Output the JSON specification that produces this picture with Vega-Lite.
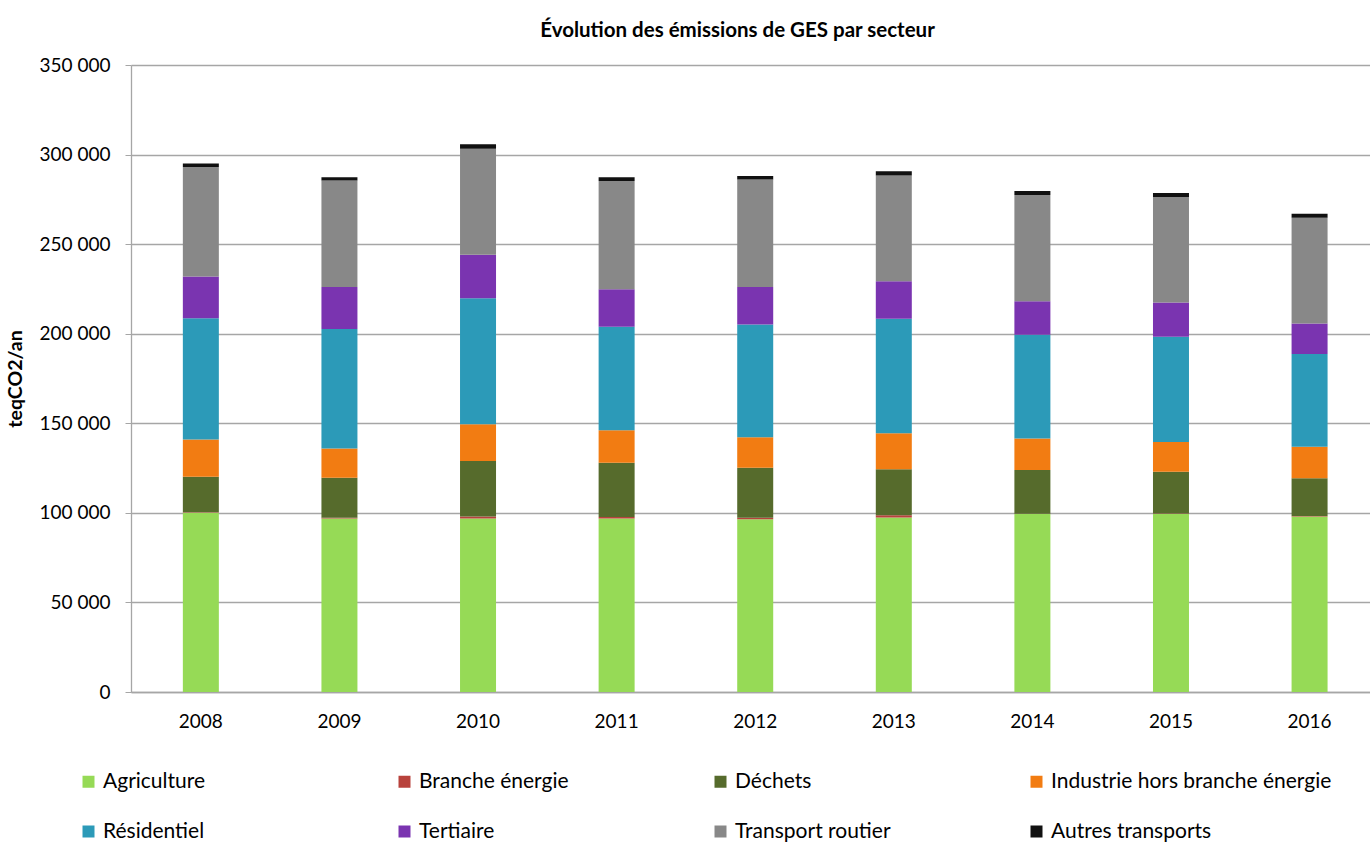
{
  "$schema": "https://vega.github.io/schema/vega-lite/v6.json",
  "autosize": {"type": "none"},
  "padding": {"left": 131, "top": 65, "right": 0, "bottom": 152},
  "width": 1239,
  "height": 627,
  "background": "white",
  "title": {
    "text": "Évolution des émissions de GES par secteur",
    "fontSize": 20.5,
    "fontWeight": "bold",
    "color": "#000000",
    "anchor": "middle",
    "dx": -13,
    "offset": 15
  },
  "data": {
    "values": [
      {"annee": "2008", "secteur": "Agriculture", "teq": 100100},
      {"annee": "2008", "secteur": "Branche énergie", "teq": 300},
      {"annee": "2008", "secteur": "Déchets", "teq": 19800},
      {"annee": "2008", "secteur": "Industrie hors branche énergie", "teq": 20700},
      {"annee": "2008", "secteur": "Résidentiel", "teq": 67800},
      {"annee": "2008", "secteur": "Tertiaire", "teq": 23200},
      {"annee": "2008", "secteur": "Transport routier", "teq": 61100},
      {"annee": "2008", "secteur": "Autres transports", "teq": 2000},

      {"annee": "2009", "secteur": "Agriculture", "teq": 96800},
      {"annee": "2009", "secteur": "Branche énergie", "teq": 500},
      {"annee": "2009", "secteur": "Déchets", "teq": 22300},
      {"annee": "2009", "secteur": "Industrie hors branche énergie", "teq": 16300},
      {"annee": "2009", "secteur": "Résidentiel", "teq": 66700},
      {"annee": "2009", "secteur": "Tertiaire", "teq": 23500},
      {"annee": "2009", "secteur": "Transport routier", "teq": 59400},
      {"annee": "2009", "secteur": "Autres transports", "teq": 1900},

      {"annee": "2010", "secteur": "Agriculture", "teq": 96800},
      {"annee": "2010", "secteur": "Branche énergie", "teq": 1200},
      {"annee": "2010", "secteur": "Déchets", "teq": 30900},
      {"annee": "2010", "secteur": "Industrie hors branche énergie", "teq": 20500},
      {"annee": "2010", "secteur": "Résidentiel", "teq": 70400},
      {"annee": "2010", "secteur": "Tertiaire", "teq": 24300},
      {"annee": "2010", "secteur": "Transport routier", "teq": 59200},
      {"annee": "2010", "secteur": "Autres transports", "teq": 2400},

      {"annee": "2011", "secteur": "Agriculture", "teq": 96800},
      {"annee": "2011", "secteur": "Branche énergie", "teq": 900},
      {"annee": "2011", "secteur": "Déchets", "teq": 30300},
      {"annee": "2011", "secteur": "Industrie hors branche énergie", "teq": 18100},
      {"annee": "2011", "secteur": "Résidentiel", "teq": 57800},
      {"annee": "2011", "secteur": "Tertiaire", "teq": 20900},
      {"annee": "2011", "secteur": "Transport routier", "teq": 60400},
      {"annee": "2011", "secteur": "Autres transports", "teq": 2200},

      {"annee": "2012", "secteur": "Agriculture", "teq": 96500},
      {"annee": "2012", "secteur": "Branche énergie", "teq": 700},
      {"annee": "2012", "secteur": "Déchets", "teq": 28000},
      {"annee": "2012", "secteur": "Industrie hors branche énergie", "teq": 17000},
      {"annee": "2012", "secteur": "Résidentiel", "teq": 63000},
      {"annee": "2012", "secteur": "Tertiaire", "teq": 20900},
      {"annee": "2012", "secteur": "Transport routier", "teq": 60000},
      {"annee": "2012", "secteur": "Autres transports", "teq": 2000},

      {"annee": "2013", "secteur": "Agriculture", "teq": 97400},
      {"annee": "2013", "secteur": "Branche énergie", "teq": 1200},
      {"annee": "2013", "secteur": "Déchets", "teq": 25800},
      {"annee": "2013", "secteur": "Industrie hors branche énergie", "teq": 20000},
      {"annee": "2013", "secteur": "Résidentiel", "teq": 63900},
      {"annee": "2013", "secteur": "Tertiaire", "teq": 21000},
      {"annee": "2013", "secteur": "Transport routier", "teq": 59000},
      {"annee": "2013", "secteur": "Autres transports", "teq": 2400},

      {"annee": "2014", "secteur": "Agriculture", "teq": 99300},
      {"annee": "2014", "secteur": "Branche énergie", "teq": 200},
      {"annee": "2014", "secteur": "Déchets", "teq": 24400},
      {"annee": "2014", "secteur": "Industrie hors branche énergie", "teq": 17600},
      {"annee": "2014", "secteur": "Résidentiel", "teq": 57900},
      {"annee": "2014", "secteur": "Tertiaire", "teq": 18700},
      {"annee": "2014", "secteur": "Transport routier", "teq": 59300},
      {"annee": "2014", "secteur": "Autres transports", "teq": 2200},

      {"annee": "2015", "secteur": "Agriculture", "teq": 99300},
      {"annee": "2015", "secteur": "Branche énergie", "teq": 300},
      {"annee": "2015", "secteur": "Déchets", "teq": 23400},
      {"annee": "2015", "secteur": "Industrie hors branche énergie", "teq": 16600},
      {"annee": "2015", "secteur": "Résidentiel", "teq": 58700},
      {"annee": "2015", "secteur": "Tertiaire", "teq": 19100},
      {"annee": "2015", "secteur": "Transport routier", "teq": 58900},
      {"annee": "2015", "secteur": "Autres transports", "teq": 2200},

      {"annee": "2016", "secteur": "Agriculture", "teq": 97900},
      {"annee": "2016", "secteur": "Branche énergie", "teq": 400},
      {"annee": "2016", "secteur": "Déchets", "teq": 21000},
      {"annee": "2016", "secteur": "Industrie hors branche énergie", "teq": 17600},
      {"annee": "2016", "secteur": "Résidentiel", "teq": 51800},
      {"annee": "2016", "secteur": "Tertiaire", "teq": 17000},
      {"annee": "2016", "secteur": "Transport routier", "teq": 59100},
      {"annee": "2016", "secteur": "Autres transports", "teq": 2100}
    ]
  },
  "transform": [
    {
      "calculate": "indexof(['Agriculture', 'Branche énergie', 'Déchets', 'Industrie hors branche énergie', 'Résidentiel', 'Tertiaire', 'Transport routier', 'Autres transports'], datum.secteur)",
      "as": "ordre_pile"
    }
  ],
  "mark": {"type": "bar", "width": 36},
  "encoding": {
    "x": {
      "field": "annee",
      "type": "nominal",
      "title": null,
      "scale": {"paddingInner": 0.74, "paddingOuter": 0.34, "align": 0.55},
      "axis": {
        "labelAngle": 0,
        "labelFontSize": 19,
        "labelColor": "#000000",
        "labelPadding": 20,
        "ticks": false,
        "domainColor": "#A6A6A6",
        "domainWidth": 1.3
      }
    },
    "y": {
      "field": "teq",
      "type": "quantitative",
      "stack": "zero",
      "title": "teqCO2/an",
      "scale": {"domain": [0, 350000], "nice": false},
      "axis": {
        "values": [0, 50000, 100000, 150000, 200000, 250000, 300000, 350000],
        "labelExpr": "replace(format(datum.value, ',d'), regexp(',', 'g'), ' ')",
        "labelFontSize": 19,
        "labelColor": "#000000",
        "labelPadding": 15,
        "tickSize": 6,
        "tickColor": "#A6A6A6",
        "domainColor": "#A6A6A6",
        "domainWidth": 1.3,
        "gridColor": "#A6A6A6",
        "gridWidth": 1.3,
        "titleFontSize": 19.5,
        "titleFontWeight": "bold",
        "titleColor": "#000000",
        "titlePadding": 14
      }
    },
    "order": {"field": "ordre_pile", "type": "quantitative", "sort": "ascending"},
    "color": {
      "field": "secteur",
      "type": "nominal",
      "sort": ["Agriculture", "Branche énergie", "Déchets", "Industrie hors branche énergie", "Résidentiel", "Tertiaire", "Transport routier", "Autres transports"],
      "scale": {
        "domain": ["Agriculture", "Branche énergie", "Déchets", "Industrie hors branche énergie", "Résidentiel", "Tertiaire", "Transport routier", "Autres transports"],
        "range": ["#96DA56", "#B8423C", "#566B2C", "#F27C12", "#2C9AB8", "#7A34B0", "#888888", "#111111"]
      },
      "legend": {
        "title": null,
        "orient": "none",
        "legendX": -53,
        "legendY": 706,
        "direction": "horizontal",
        "columns": 4,
        "gridAlign": "all",
        "columnPadding": 10,
        "rowPadding": 28,
        "symbolType": "square",
        "symbolSize": 144,
        "symbolStrokeWidth": 0,
        "labelFontSize": 21,
        "labelColor": "#000000",
        "labelOffset": 4,
        "labelLimit": 400
      }
    }
  },
  "config": {
    "font": "Lato",
    "view": {"stroke": null}
  }
}
